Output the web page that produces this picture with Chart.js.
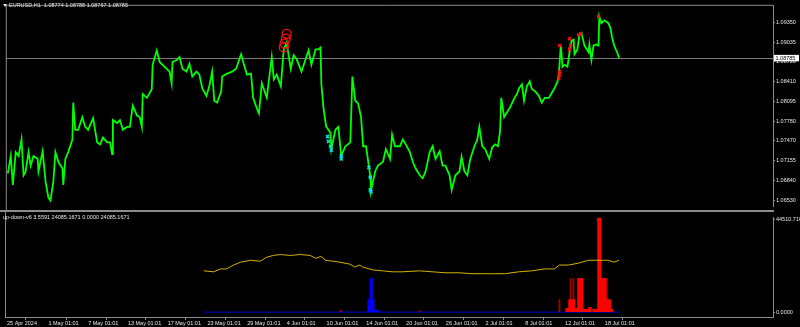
<!DOCTYPE html>
<html><head><meta charset="utf-8">
<script src="https://cdn.jsdelivr.net/npm/chart.js@4.4.1/dist/chart.umd.min.js"></script>
<style>
html,body{margin:0;padding:0;background:#000;overflow:hidden}
#wrap{position:relative;width:800px;height:327px;background:#000}
.box{position:absolute;left:0;width:800px}
</style></head><body>
<div id="wrap">
<div class="box" style="top:0;height:212px"><canvas id="c1"></canvas></div>
<div class="box" style="top:212px;height:115px"><canvas id="c2"></canvas></div>
</div>
<script>
// ---------- DATA ----------
const symbolTitle = 'EURUSD,H1  1.08774 1.08788 1.08767 1.08785';
const indicatorTitle = 'up-down-v6 3.5591 24085.1671 0.0000 24085.1671';
const currentPrice = 1.08785;

// bar index (H1 bars from 25 Apr 2024) of each price sample
const priceBars = [5,12,17,24,31,38,43,48,55,60,67,77,79,89,96,103,108,115,120,127,137,139,144,151,161,163,168,175,185,192,199,211,221,228,235,245,252,257,259,269,276,283,293,300,307,317,324,329,331,341,353,355,365,372,379,389,396,401,403,413,420,427,437,444,451,461,468,475,485,492,499,504,511,521,523,535,547,557,564,569,576,583,593,598,607,612,619,631,643,648,655,665,672,679,689,696,703,715,725,732,739,749,756,761,763,768,773,775,785,787,797,804,811,821,833,838,845,852,859,864,871,881,883,893,900,912,919,929,934,941,953,960,967,977,984,991,1001,1008,1015,1025,1032,1039,1049,1056,1063,1073,1078,1087,1097,1102,1109,1116,1123,1133,1140,1145,1152,1159,1169,1176,1183,1190,1195,1198,1205,1212,1219,1229,1236,1241,1248,1253,1260,1267,1272,1279,1289,1296,1303,1313,1320,1327,1334,1337,1342,1346,1351,1358,1363,1368,1373,1375,1382,1387,1392,1399,1409,1411,1416,1421,1428,1433,1435,1440,1447,1457,1462,1466,1471,1478,1483];
const priceClose = [1.06952,1.07229,1.06768,1.07290,1.07229,1.07490,1.06922,1.06983,1.07290,1.07075,1.07229,1.07183,1.06983,1.07306,1.06829,1.06568,1.06522,1.06829,1.07290,1.07137,1.07029,1.06768,1.07183,1.07290,1.07490,1.08074,1.07644,1.07644,1.07844,1.07690,1.07644,1.07828,1.07444,1.07413,1.07521,1.07444,1.07444,1.07260,1.07798,1.07752,1.07798,1.07644,1.07690,1.07690,1.08028,1.07874,1.07844,1.07690,1.08213,1.08151,1.08289,1.08674,1.08904,1.08720,1.08674,1.08612,1.08566,1.08382,1.08720,1.08751,1.08797,1.08612,1.08566,1.08689,1.08489,1.08566,1.08520,1.08305,1.08182,1.08336,1.08566,1.08105,1.08074,1.08259,1.08489,1.08535,1.08566,1.08612,1.08751,1.08843,1.08674,1.08520,1.08535,1.08151,1.07982,1.07905,1.08382,1.08151,1.08797,1.08443,1.08520,1.08336,1.08920,1.09027,1.08612,1.08827,1.08766,1.08566,1.08766,1.08904,1.08674,1.08920,1.08920,1.08950,1.08366,1.07997,1.07767,1.07690,1.07598,1.07337,1.07644,1.07690,1.07229,1.07383,1.07444,1.08489,1.08105,1.08059,1.07844,1.07383,1.07383,1.06922,1.06676,1.06983,1.07075,1.07137,1.07337,1.07183,1.07567,1.07383,1.07383,1.07490,1.07413,1.07290,1.07137,1.07029,1.06922,1.06875,1.06983,1.07290,1.07383,1.07183,1.07306,1.07075,1.07075,1.06922,1.06691,1.06922,1.06983,1.07214,1.06983,1.06922,1.07183,1.07383,1.07490,1.07690,1.07383,1.07337,1.07183,1.07367,1.07413,1.07383,1.07613,1.08151,1.07844,1.07921,1.07997,1.08136,1.08213,1.08305,1.08366,1.08105,1.08336,1.08412,1.08289,1.08259,1.08182,1.08074,1.08151,1.08151,1.08228,1.08305,1.08412,1.08520,1.08981,1.08643,1.08674,1.08643,1.08874,1.09058,1.09073,1.08843,1.08920,1.09150,1.09181,1.08981,1.08874,1.08996,1.08751,1.08981,1.08996,1.08981,1.09442,1.09335,1.09381,1.09335,1.09258,1.09104,1.08981,1.08874,1.08785];

// signal markers on the price window
const circleBars = [679,677,674,672];
const circlePrices = [1.09166,1.09089,1.09012,1.08950];
const buyBars = [778,780,785,787,811,811,878,881,881,883];
const buyPrices = [1.07536,1.07460,1.07383,1.07321,1.07229,1.07183,1.07045,1.06891,1.06691,1.06660];
const sellBars = [1339,1363,1366,1363,1385,1390,1433,1339,1339,1337];
const sellPrices = [1.08981,1.09089,1.08981,1.08920,1.09150,1.09166,1.09442,1.08566,1.08520,1.08459];

const priceTicks = [1.09350,1.09035,1.08720,1.08410,1.08095,1.07780,1.07470,1.07155,1.06840,1.06530];

// indicator window
const avgBars = [480,504,521,535,552,569,593,617,631,648,665,689,713,737,751,763,775,792,809,833,845,857,864,888,912,936,960,1001,1032,1063,1097,1128,1152,1183,1207,1241,1272,1303,1327,1339,1361,1385,1409,1433,1457,1471,1483];
const avgValues = [19937,19473,20864,20864,22719,24110,25037,24573,26428,27355,27819,27355,27819,27355,25964,26892,25037,24573,24110,23183,21792,22719,21792,20401,19937,19473,19473,19937,19473,19010,19010,18546,18546,18546,18546,19473,19937,20864,20864,22719,22719,23646,25037,25037,25037,24110,25037];

const upBars = [1356,1358,1361,1363,1366,1368,1370,1373,1375,1378,1380,1382,1385,1387,1390,1392,1394,1397,1399,1402,1404,1406,1409,1411,1414,1421,1423,1426,1428,1430,1433,1435,1438,1440,1442,1445,1447,1450,1452,1454,1457,1459,1462,1464,1466];
const upValues = [1850,1850,1850,6027,6027,6027,6027,6027,6027,1850,1850,1850,16228,16228,16228,16228,16228,1400,1400,1400,1400,1400,1400,2300,2300,1400,1400,1400,1400,1400,44510,44510,44510,16228,16228,16228,16228,16228,6027,6027,6027,6027,6027,1400,1400];
const upDarkBars = [811,1001,1339,1366,1373,1385,1394,1450,1452,1454];
const upDarkValues = [927,700,6027,16228,16228,16228,16228,16228,16228,16228];
const downBars = [878,881,883,886,888,890,893,895,898,900,902];
const downValues = [6027,6027,16228,16228,6027,6027,927,927,927,927,927];
const peakBars = [1435];
const peakValues = [44510.716];
const zeroBars = [480,1483];
const zeroValues = [0,0];
const subTicks = [0,44510.716];
const subTickLabels = ['0.0000','44510.716'];

const xTickBars = [0,100,196,292,388,484,580,676,772,868,964,1060,1156,1252,1348,1444];
const xTickLabels = ['25 Apr 2024','1 May 01:01','7 May 01:01','13 May 01:01','17 May 01:01','23 May 01:01','29 May 01:01','4 Jun 01:01','10 Jun 01:01','14 Jun 01:01','20 Jun 01:01','26 Jun 01:01','2 Jul 01:01','8 Jul 01:01','12 Jul 01:01','18 Jul 01:01'];
const X_MAX = 1855;

// ---------- RENDER ----------
const FONT = 'Liberation Sans';
const FS = 5.5;
const TXT = '#e6e6e6';
const GRAY = '#8c8c8c';
const pts = (xs, ys) => xs.map((x, i) => ({x, y: ys[i]}));

Chart.defaults.font.family = FONT;
Chart.defaults.font.size = FS;
Chart.defaults.color = TXT;
Chart.defaults.animation = false;
Chart.defaults.events = [];
Chart.defaults.plugins.legend.display = false;
Chart.defaults.plugins.tooltip.enabled = false;

const topPlugin = {
  id: 'topDecor',
  beforeDatasetsDraw(chart) {
    const {ctx, chartArea: a} = chart;
    const y = Math.round(chart.scales.y.getPixelForValue(currentPrice)) + 0.5;
    ctx.save();
    ctx.strokeStyle = '#7a7a7a'; ctx.lineWidth = 1;
    ctx.beginPath(); ctx.moveTo(a.left, y); ctx.lineTo(a.right, y); ctx.stroke();
    ctx.restore();
  },
  afterDraw(chart) {
    const {ctx, chartArea: a} = chart;
    ctx.save();
    ctx.strokeStyle = GRAY; ctx.lineWidth = 1;
    ctx.beginPath();
    ctx.moveTo(a.left + 0.5, 210); ctx.lineTo(a.left + 0.5, a.top - 0.5); ctx.lineTo(a.right, a.top - 0.5);
    ctx.stroke();
    ctx.fillStyle = GRAY;
    ctx.fillRect(0, 210, a.right + 1, 2);
    // header
    ctx.fillStyle = TXT;
    ctx.beginPath(); ctx.moveTo(3, 4); ctx.lineTo(7, 4); ctx.lineTo(5, 7); ctx.closePath(); ctx.fill();
    ctx.font = FS + 'px "' + FONT + '"';
    ctx.textBaseline = 'middle'; ctx.textAlign = 'left';
    ctx.fillText(symbolTitle, 9, 5.5);
    // current price label
    const y = chart.scales.y.getPixelForValue(currentPrice);
    ctx.fillStyle = '#ffffff';
    ctx.fillRect(a.right + 1, y - 3, 25, 6.5);
    ctx.fillStyle = '#000000';
    ctx.fillText(currentPrice.toFixed(5), a.right + 2.5, y + 0.3);
    ctx.restore();
  }
};

new Chart(document.getElementById('c1'), {
  type: 'line',
  data: {
    datasets: [
      {data: pts(circleBars, circlePrices), showLine: false, pointStyle: 'circle', pointRadius: 4.5,
       pointBorderColor: '#ff1010', pointBackgroundColor: 'rgba(0,0,0,0)', pointBorderWidth: 1.3, order: 1},
      {data: pts(buyBars, buyPrices), showLine: false, pointStyle: 'crossRot', pointRadius: 2.2,
       pointBorderColor: '#00e5e5', pointBorderWidth: 1.4, order: 1},
      {data: pts(sellBars, sellPrices), showLine: false, pointStyle: 'crossRot', pointRadius: 2.2,
       pointBorderColor: '#ff1010', pointBorderWidth: 1.4, order: 1},
      {data: pts(priceBars, priceClose), borderColor: '#00ff00', borderWidth: 1.8, pointRadius: 0,
       tension: 0, fill: false, order: 2}
    ]
  },
  options: {
    responsive: true, maintainAspectRatio: false,
    layout: {padding: {top: 2, bottom: 3, left: 0, right: 0}},
    scales: {
      x: {type: 'linear', min: 0, max: X_MAX, display: false},
      y: {
        position: 'right', min: 1.06432, max: 1.09611,
        afterBuildTicks: s => { s.ticks = priceTicks.map(v => ({value: v})); },
        afterFit: s => { s.width = 27; },
        ticks: {callback: v => Number(v).toFixed(5), padding: 1, color: TXT, font: {size: FS}},
        grid: {drawOnChartArea: false, tickLength: 2, color: GRAY},
        border: {color: GRAY}
      }
    }
  },
  plugins: [topPlugin]
});

const botPlugin = {
  id: 'botDecor',
  afterDraw(chart) {
    const {ctx, chartArea: a} = chart;
    ctx.save();
    ctx.strokeStyle = GRAY; ctx.lineWidth = 1;
    ctx.beginPath(); ctx.moveTo(a.left + 0.5, 0); ctx.lineTo(a.left + 0.5, a.bottom); ctx.stroke();
    ctx.fillStyle = TXT;
    ctx.font = FS + 'px "' + FONT + '"';
    ctx.textBaseline = 'middle'; ctx.textAlign = 'left';
    ctx.fillText(indicatorTitle, 3, 5.5);
    ctx.restore();
  }
};

new Chart(document.getElementById('c2'), {
  type: 'bar',
  data: {
    datasets: [
      {type: 'line', data: pts(zeroBars, zeroValues), borderColor: '#0000b4', borderWidth: 1.2, pointRadius: 0, order: 6},
      {data: pts(upDarkBars, upDarkValues), backgroundColor: '#9a0000', barThickness: 1.3, grouped: false, order: 5},
      {data: pts(upBars, upValues), backgroundColor: '#ff0000', barThickness: 1.4, grouped: false, order: 4},
      {data: pts(downBars, downValues), backgroundColor: '#0000ff', barThickness: 1.4, grouped: false, order: 3},
      {type: 'line', data: pts(peakBars, peakValues), showLine: false, pointStyle: 'rect', pointRadius: 2.4,
       pointBackgroundColor: '#ff0000', pointBorderColor: '#ff0000', order: 2},
      {type: 'line', data: pts(avgBars, avgValues), borderColor: '#d4b000', borderWidth: 1, pointRadius: 0, tension: 0, order: 1}
    ]
  },
  options: {
    responsive: true, maintainAspectRatio: false,
    layout: {padding: {top: 1, bottom: 0, left: 0, right: 0}},
    scales: {
      x: {
        type: 'linear', min: 0, max: X_MAX, offset: false,
        afterBuildTicks: s => { s.ticks = xTickBars.map(v => ({value: v})); },
        afterFit: s => { s.height = 10; },
        ticks: {callback: (v, i) => xTickLabels[i], align: 'start', autoSkip: false, maxRotation: 0,
                padding: 0, labelOffset: 2, color: TXT, font: {size: FS}},
        grid: {drawOnChartArea: false, tickLength: 3, color: GRAY},
        border: {color: GRAY}
      },
      y: {
        position: 'right', min: -2318, max: 45902,
        afterBuildTicks: s => { s.ticks = subTicks.map(v => ({value: v})); },
        afterFit: s => { s.width = 27; },
        ticks: {callback: (v, i) => subTickLabels[i], padding: 1, color: TXT, font: {size: FS}},
        grid: {drawOnChartArea: false, tickLength: 2, color: GRAY},
        border: {color: GRAY}
      }
    }
  },
  plugins: [botPlugin]
});
</script>
</body></html>
